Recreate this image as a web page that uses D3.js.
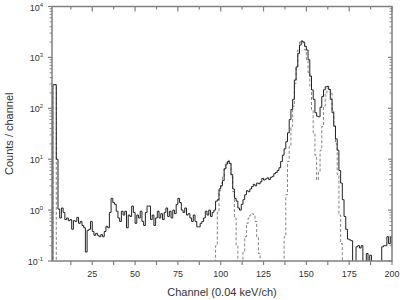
<!DOCTYPE html>
<html>
<head>
<meta charset="utf-8">
<script src="https://cdn.jsdelivr.net/npm/d3@7"></script>
<style>
  body { margin: 0; background: #fff; }
  text { font-family: "Liberation Sans", Arial, sans-serif; fill: #333; }
</style>
</head>
<body>
<div id="chart"></div>
<script>
// counts per channel, channel 1..200 (0 = empty channel)
var measured = [
  0, 290, 290, 10, 1.05, 0.7, 1.1, 0.9, 0.65, 0.7,
  0.62, 0.65, 0.42, 0.62, 0.6, 0.72, 0.55, 0.6, 0.5, 0.45,
  0.15, 0.4, 0.42, 0.6, 0.38, 0.32, 0.35, 0.32, 0.3, 0.33,
  0.3, 0.38, 0.48, 0.45, 0.9, 1.7, 1.4, 1.3, 0.95, 0.7,
  0.6, 0.95, 0.8, 0.95, 0.45, 0.8, 0.75, 1.2, 0.9, 0.55,
  0.8, 0.7, 0.95, 0.6, 0.5, 0.9, 1.2, 1.2, 0.65, 0.8,
  0.5, 0.7, 0.95, 0.7, 0.85, 0.65, 0.9, 1.1, 0.75, 0.95,
  0.7, 1.0, 0.85, 1.3, 1.7, 1.4, 1.0, 0.9, 1.1, 0.8,
  0.85, 0.7, 0.6, 0.8, 0.6, 0.47, 0.47, 0.55, 0.6, 0.7,
  0.95, 0.8, 1.0, 0.75, 0.9, 1.0, 1.5, 1.6, 2.6, 3.0,
  3.8, 6.5, 8.0, 9.0, 8.2, 5.0, 2.6, 1.7, 1.5, 1.1,
  1.0, 1.3, 1.6, 2.0, 2.4, 2.3, 2.6, 2.9, 3.2, 3.0,
  3.4, 3.3, 3.6, 4.2, 3.9, 4.1, 4.3, 4.0, 4.4, 4.6,
  5.2, 5.5, 6.0, 6.8, 9.0, 12, 16, 22, 33, 60,
  95, 150, 360, 650, 1200, 1750, 2100, 2000, 1650, 1400,
  900, 430, 230, 150, 82, 70, 68, 105, 170, 230,
  265, 270, 235, 150, 82, 45, 25, 15, 6, 3.4,
  1.6, 0.75, 0.42, 0.27, 0.26, 0.25, 0, 0, 0.19, 0.2,
  0.18, 0.2, 0, 0, 0.14, 0, 0.13, 0, 0, 0,
  0, 0, 0, 0.19, 0.2, 0.2, 0.3, 0.22, 0.3, 0.2
];

// fitted response, same channels
var fitted = [
  0, 290, 290, 0, 0, 0, 0, 0, 0, 0,
  0, 0, 0, 0, 0, 0, 0, 0, 0, 0,
  0, 0, 0, 0, 0, 0, 0, 0, 0, 0,
  0, 0, 0, 0, 0, 0, 0, 0, 0, 0,
  0, 0, 0, 0, 0, 0, 0, 0, 0, 0,
  0, 0, 0, 0, 0, 0, 0, 0, 0, 0,
  0, 0, 0, 0, 0, 0, 0, 0, 0, 0,
  0, 0, 0, 0, 0, 0, 0, 0, 0, 0,
  0, 0, 0, 0, 0, 0, 0, 0, 0, 0,
  0, 0, 0, 0, 0, 0, 0.2, 0.9, 2.4, 3.4,
  4.5, 6.5, 8.5, 9.5, 8.5, 4.5, 2.3, 0.7, 0.2, 0,
  0, 0, 0.15, 0.3, 0.55, 0.7, 0.8, 0.85, 0.82, 0.6,
  0.3, 0.14, 0, 0, 0, 0, 0, 0, 0, 0,
  0, 0, 0, 0, 0, 0, 0.3, 2.0, 9, 18,
  44, 110, 310, 670, 1400, 2000, 2050, 1800, 1400, 900,
  500, 270, 94, 33, 12, 3.9, 5.5, 15, 44, 110,
  200, 250, 240, 200, 95, 44, 20, 5, 0.8, 0.22,
  0, 0, 0, 0, 0, 0, 0, 0, 0, 0,
  0, 0, 0, 0, 0, 0, 0, 0, 0, 0,
  0, 0, 0, 0, 0, 0, 0, 0, 0, 0
];

var xTickLabels = [25, 50, 75, 100, 125, 150, 175, 200];
var yDecades = [-1, 0, 1, 2, 3, 4];

var svgWidth = 403;
var svgHeight = 300;
var plotLeft = 52, plotRight = 392, plotTop = 6.5, plotBottom = 261;

var svg = d3.select("#chart")
    .append("svg")
    .attr("width", svgWidth)
    .attr("height", svgHeight);

var x = d3.scaleLinear().domain([1.5, 200]).range([plotLeft, plotRight]);
var y = d3.scaleLog().domain([0.1, 1e4]).range([plotBottom, plotTop]);

svg.append("clipPath")
    .attr("id", "plot")
    .append("rect")
    .attr("x", plotLeft)
    .attr("y", plotTop)
    .attr("width", plotRight - plotLeft)
    .attr("height", plotBottom - plotTop);

// each channel c covers [c, c+1)
function stepData(values) {
    var pts = values.map(function (v, i) {
        return { c: i + 1, v: v };
    });
    pts.push({ c: values.length + 1, v: values[values.length - 1] });
    return pts;
}

var line = d3.line()
    .x(function (d) { return x(d.c); })
    .y(function (d) { return y(Math.max(d.v, 0.03)); })
    .curve(d3.curveStepAfter);

var plot = svg.append("g").attr("clip-path", "url(#plot)");

plot.append("path")
    .datum(stepData(fitted))
    .attr("d", line)
    .attr("fill", "none")
    .attr("stroke", "#666")
    .attr("stroke-width", 0.8)
    .attr("stroke-dasharray", "3,2");

plot.append("path")
    .datum(stepData(measured))
    .attr("d", line)
    .attr("fill", "none")
    .attr("stroke", "#222")
    .attr("stroke-width", 1);

// frame
var axisColor = "#808080";
svg.append("rect")
    .attr("x", plotLeft)
    .attr("y", plotTop)
    .attr("width", plotRight - plotLeft)
    .attr("height", plotBottom - plotTop)
    .attr("fill", "none")
    .attr("stroke", axisColor)
    .attr("stroke-width", 1.5);

// x ticks every 12.5 channels
var xTicks = d3.range(12.5, 200.1, 12.5);
var ticks = svg.append("g").attr("stroke", axisColor).attr("stroke-width", 1.2);
xTicks.forEach(function (t) {
    var major = t % 25 === 0;
    ticks.append("line")
        .attr("x1", x(t)).attr("x2", x(t))
        .attr("y1", plotBottom).attr("y2", plotBottom + 4);
    ticks.append("line")
        .attr("x1", x(t)).attr("x2", x(t))
        .attr("y1", plotTop).attr("y2", plotTop + (major ? 5 : 3));
});

svg.append("g").selectAll("text")
    .data(xTickLabels)
    .enter()
    .append("text")
    .attr("x", function (d) { return x(d); })
    .attr("y", 277)
    .attr("text-anchor", "middle")
    .style("font-size", "9px")
    .text(function (d) { return d; });

// y ticks, log decades with minor ticks
yDecades.forEach(function (e) {
    var v = Math.pow(10, e);
    ticks.append("line")
        .attr("x1", plotLeft - 4).attr("x2", plotLeft)
        .attr("y1", y(v)).attr("y2", y(v));
    ticks.append("line")
        .attr("x1", plotRight - 4).attr("x2", plotRight)
        .attr("y1", y(v)).attr("y2", y(v));
    if (e < 4) {
        for (var m = 2; m < 10; m++) {
            ticks.append("line")
                .attr("x1", plotLeft - 2.5).attr("x2", plotLeft)
                .attr("y1", y(m * v)).attr("y2", y(m * v))
                .attr("stroke-width", 0.9);
            ticks.append("line")
                .attr("x1", plotRight - 2.5).attr("x2", plotRight)
                .attr("y1", y(m * v)).attr("y2", y(m * v))
                .attr("stroke-width", 0.9);
        }
    }
});

var yLabels = svg.append("g").selectAll("text")
    .data(yDecades)
    .enter()
    .append("text")
    .attr("x", 43)
    .attr("y", function (d) { return y(Math.pow(10, d)) + 4; })
    .attr("text-anchor", "end")
    .style("font-size", "9px");
yLabels.append("tspan").text("10");
yLabels.append("tspan")
    .attr("dy", -4)
    .style("font-size", "6px")
    .text(function (d) { return d; });

// axis titles
svg.append("text")
    .attr("x", (plotLeft + plotRight) / 2)
    .attr("y", 296)
    .attr("text-anchor", "middle")
    .style("font-size", "11px")
    .text("Channel (0.04 keV/ch)");

svg.append("text")
    .attr("transform", "translate(13," + (plotTop + plotBottom) / 2 + ") rotate(-90)")
    .attr("text-anchor", "middle")
    .style("font-size", "11px")
    .text("Counts / channel");
</script>
</body>
</html>
